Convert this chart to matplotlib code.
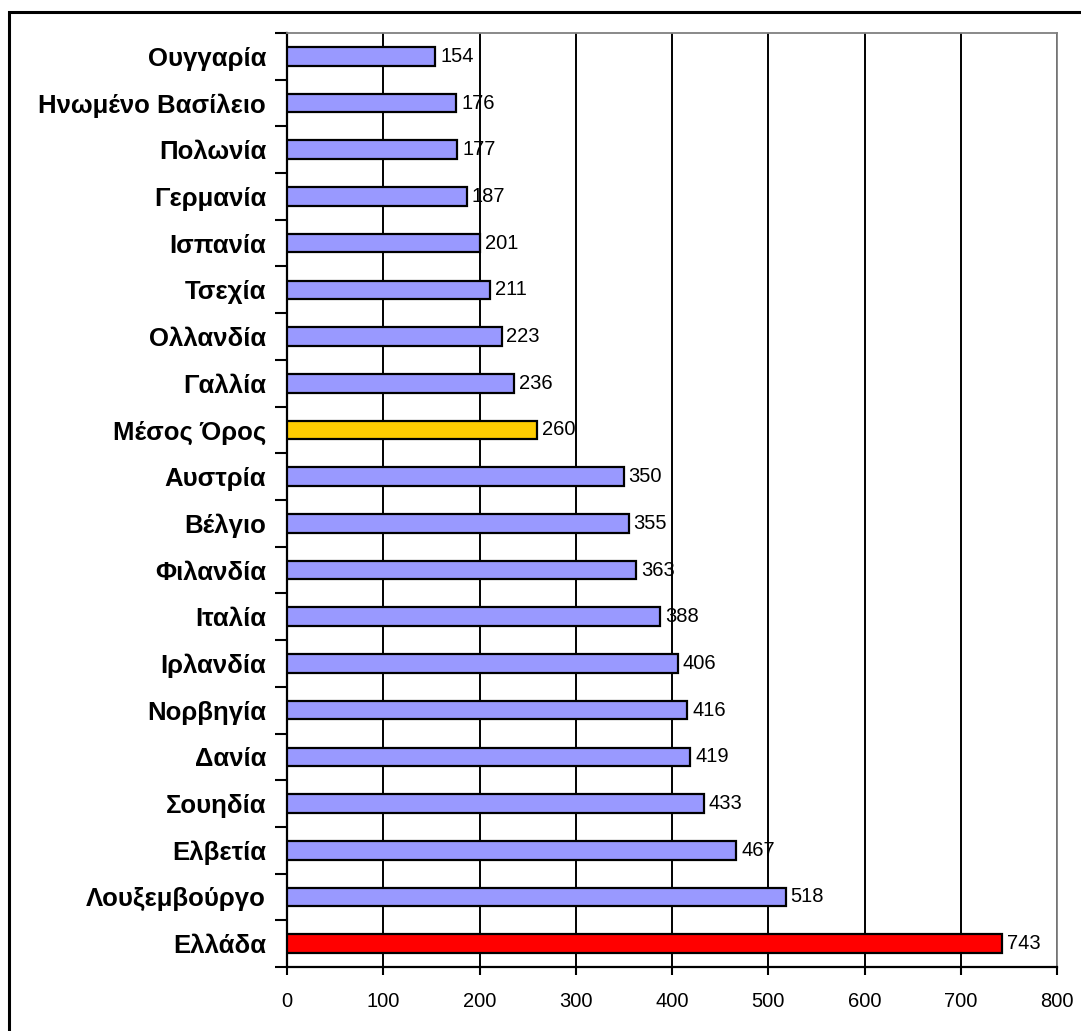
import matplotlib
matplotlib.use("Agg")
import matplotlib.pyplot as plt
from matplotlib.patches import Rectangle
from matplotlib.ticker import FixedLocator

categories = ["Ουγγαρία", "Ηνωμένο Βασίλειο", "Πολωνία", "Γερμανία", "Ισπανία",
              "Τσεχία", "Ολλανδία", "Γαλλία", "Μέσος Όρος", "Αυστρία", "Βέλγιο",
              "Φιλανδία", "Ιταλία", "Ιρλανδία", "Νορβηγία", "Δανία", "Σουηδία",
              "Ελβετία", "Λουξεμβούργο", "Ελλάδα"]
values = [154, 176, 177, 187, 201, 211, 223, 236, 260, 350, 355, 363, 388,
          406, 416, 419, 433, 467, 518, 743]
xticks = [0, 100, 200, 300, 400, 500, 600, 700, 800]

plt.rcParams['font.family'] = ['Liberation Sans', 'DejaVu Sans']

W, H = 1081, 1031
fig = plt.figure(figsize=(W / 100, H / 100), dpi=100)
L, R, T, B = 287, 1057, 33, 967
ax = fig.add_axes([L / W, 1 - B / H, (R - L) / W, (B - T) / H])

n = len(categories)
colors = []
for c in categories:
    if c == "Ελλάδα":
        colors.append("#FF0000")
    elif c == "Μέσος Όρος":
        colors.append("#FFCC00")
    else:
        colors.append("#9999FF")

ypos = list(range(n))
ax.barh(ypos, values, height=0.40, color=colors, edgecolor="black",
        linewidth=1.6, zorder=3)
for y, v in zip(ypos, values):
    ax.text(v + 5, y, str(v), va="center", ha="left", fontsize=14.5, zorder=4)

ax.set_ylim(n - 0.5, -0.5)
ax.set_xlim(0, 800)
ax.set_xticks(xticks)
ax.set_xticklabels([str(t) for t in xticks], fontsize=14.5)
ax.set_yticks(ypos)
ax.set_yticklabels(categories, fontsize=18.5, fontweight="bold")
ax.yaxis.set_minor_locator(FixedLocator([i - 0.5 for i in range(n + 1)]))
ax.tick_params(axis="y", which="major", length=0, pad=15)
ax.tick_params(axis="y", which="minor", length=9, width=1.5, color="black", direction="out")
ax.tick_params(axis="x", which="major", length=6, width=1.5, direction="out", pad=12)

ax.grid(axis="x", color="black", linewidth=1.4, zorder=1)
ax.set_axisbelow(True)
for s in ["top", "right"]:
    ax.spines[s].set_color("#808080")
    ax.spines[s].set_linewidth(1.3)
for s in ["left", "bottom"]:
    ax.spines[s].set_color("black")
    ax.spines[s].set_linewidth(1.6)

# outer chart frame
fig.patches.append(Rectangle((9 / W, -0.05), 1.2, 1 - 12 / H + 0.05,
                             transform=fig.transFigure, fill=False,
                             edgecolor="black", linewidth=2.2))

fig.savefig("out.png", dpi=100)
